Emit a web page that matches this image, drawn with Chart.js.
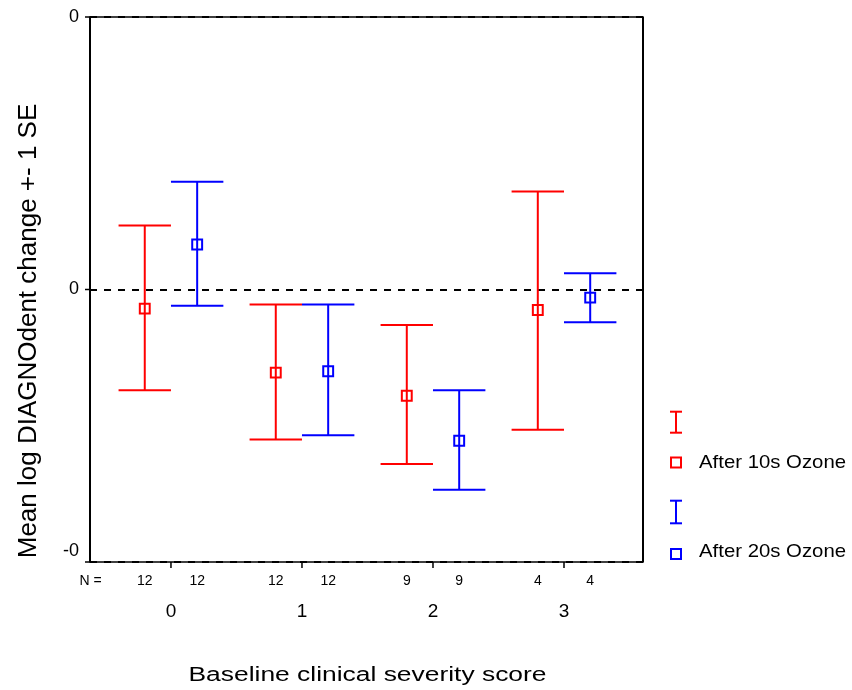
<!DOCTYPE html>
<html><head><meta charset="utf-8">
<script src="https://cdn.jsdelivr.net/npm/chart.js@4.4.0/dist/chart.umd.min.js"></script>
<style>html,body{margin:0;padding:0;background:#fff;}#wrap{width:852px;height:690px;}</style>
</head><body><div id="wrap"><canvas id="c" width="852" height="690"></canvas></div>
<script>
// ---- data ----
const categories = ['0', '1', '2', '3'];
const yTickValues = [-0.2, 0, 0.2];
const yTickLabels = ['-0', '0', '0'];
const seriesNames = ['After 10s Ozone', 'After 20s Ozone'];
const redMean  = [-0.014, -0.061, -0.078, -0.015];
const redUpper = [ 0.047, -0.011, -0.026,  0.072];
const redLower = [-0.074, -0.110, -0.128, -0.103];
const redN     = [12, 12, 9, 4];
const blueMean  = [ 0.033, -0.060, -0.111, -0.006];
const blueUpper = [ 0.079, -0.011, -0.074,  0.012];
const blueLower = [-0.012, -0.107, -0.147, -0.024];
const blueN     = [12, 12, 9, 4];
const yTitle = 'Mean log DIAGNOdent change +- 1 SE';
const xTitle = 'Baseline clinical severity score';

// ---- layout / style ----
const FONT = "'Liberation Sans', Arial, sans-serif";
const series = [
  {name: seriesNames[0], color: '#ff0000', offset: -0.2, mean: redMean, upper: redUpper, lower: redLower, n: redN},
  {name: seriesNames[1], color: '#0000ff', offset: 0.2, mean: blueMean, upper: blueUpper, lower: blueLower, n: blueN}
];
const capHalf = 0.2;

function line(ctx, x1, y1, x2, y2) { ctx.beginPath(); ctx.moveTo(x1, y1); ctx.lineTo(x2, y2); ctx.stroke(); }
function stretchedText(ctx, text, x, y, sx, rot) {
  ctx.save(); ctx.translate(x, y); if (rot) ctx.rotate(rot); ctx.scale(sx, 1); ctx.fillText(text, 0, 0); ctx.restore();
}

const decor = {
  id: 'decor',
  beforeDatasetsDraw(chart) {
    const {ctx, chartArea: a, scales: {x, y}} = chart;
    ctx.save();
    ctx.strokeStyle = '#000';
    ctx.lineWidth = 1.5;
    ctx.strokeRect(a.left, a.top, a.right - a.left, a.bottom - a.top);
    ctx.lineWidth = 2;
    line(ctx, a.left, a.top, a.left, a.bottom);
    line(ctx, a.right, a.top, a.right, a.bottom);
    ctx.setLineDash([7, 7]);
    yTickValues.forEach(v => { const py = Math.round(y.getPixelForValue(v)); line(ctx, a.left, py, a.right, py); });
    ctx.setLineDash([]);
    ctx.lineWidth = 1.5;
    yTickValues.forEach(v => { const py = y.getPixelForValue(v); line(ctx, a.left - 5, py, a.left, py); });
    categories.forEach((c, i) => { const px = x.getPixelForValue(i); line(ctx, px, a.bottom, px, a.bottom + 6); });
    series.forEach(s => {
      ctx.strokeStyle = s.color; ctx.lineWidth = 2;
      s.mean.forEach((m, i) => {
        const cx = x.getPixelForValue(i + s.offset);
        const hw = x.getPixelForValue(i + s.offset + capHalf) - cx;
        const yu = y.getPixelForValue(s.upper[i]);
        const yl = y.getPixelForValue(s.lower[i]);
        line(ctx, cx, yu, cx, yl);
        line(ctx, cx - hw, yu, cx + hw, yu);
        line(ctx, cx - hw, yl, cx + hw, yl);
      });
    });
    ctx.restore();
  },
  afterDraw(chart) {
    const {ctx, chartArea: a, scales: {x, y}} = chart;
    ctx.save();
    ctx.fillStyle = '#000';
    // N row
    ctx.font = '14px ' + FONT; ctx.textAlign = 'center'; ctx.textBaseline = 'alphabetic';
    ctx.fillText('N =', a.left + 0.5, 585);
    series.forEach(s => s.n.forEach((n, i) => ctx.fillText(String(n), x.getPixelForValue(i + s.offset), 585)));
    // x title
    ctx.font = '20px ' + FONT;
    stretchedText(ctx, xTitle, (a.left + a.right) / 2 + 1, 681, 1.32, 0);
    // y title
    ctx.font = '26px ' + FONT;
    stretchedText(ctx, yTitle, 35.5, 331, 1.0, -Math.PI / 2);
    // legend
    const lx = 676;
    const rows = [[411.7, 432.7, 462.5, 468.3], [500.7, 523.3, 554, 556.7]];
    series.forEach((s, k) => {
      const r = rows[k];
      ctx.strokeStyle = s.color; ctx.lineWidth = 2;
      line(ctx, lx, r[0], lx, r[1]);
      line(ctx, lx - 6, r[0], lx + 6, r[0]);
      line(ctx, lx - 6, r[1], lx + 6, r[1]);
      ctx.strokeRect(lx - 5, r[2] - 5, 10, 10);
      ctx.fillStyle = '#000'; ctx.font = '18.5px ' + FONT; ctx.textAlign = 'left';
      stretchedText(ctx, s.name, 699, r[3], 1.1, 0);
    });
    ctx.restore();
  }
};

const datasets = series.map(s => ({
  label: s.name,
  data: s.mean.map((m, i) => ({x: i + s.offset, y: m})),
  pointStyle: 'rect',
  radius: 7,
  borderColor: s.color,
  backgroundColor: 'rgba(0,0,0,0)',
  borderWidth: 2,
  showLine: false
}));

new Chart(document.getElementById('c'), {
  type: 'scatter',
  data: {datasets},
  plugins: [decor],
  options: {
    responsive: false,
    devicePixelRatio: 1,
    animation: false,
    layout: {padding: {left: 0, right: 209, top: 17, bottom: 0}},
    plugins: {legend: {display: false}, tooltip: {enabled: false}},
    scales: {
      x: {
        type: 'linear', position: 'bottom', min: -0.618, max: 3.603,
        grid: {display: false, drawTicks: false}, border: {display: false},
        afterBuildTicks: s => { s.ticks = categories.map((c, i) => ({value: i})); },
        afterFit: s => { s.height = 128; s.paddingLeft = 0; s.paddingRight = 0; },
        ticks: {autoSkip: false, maxRotation: 0, padding: 38, color: '#000',
          font: {family: FONT, size: 19},
          callback: (v) => categories[Math.round(v)]}
      },
      y: {
        type: 'linear', position: 'left', min: -0.2, max: 0.2,
        grid: {display: false, drawTicks: false}, border: {display: false},
        afterBuildTicks: s => { s.ticks = yTickValues.map(v => ({value: v})); },
        afterFit: s => { s.width = 90; s.paddingTop = 0; s.paddingBottom = 0; },
        ticks: {padding: 11, color: '#000', font: {family: FONT, size: 18},
          callback: (v, i) => (i === 0 ? [yTickLabels[i], ''] : yTickLabels[i])}
      }
    }
  }
});
</script></body></html>
